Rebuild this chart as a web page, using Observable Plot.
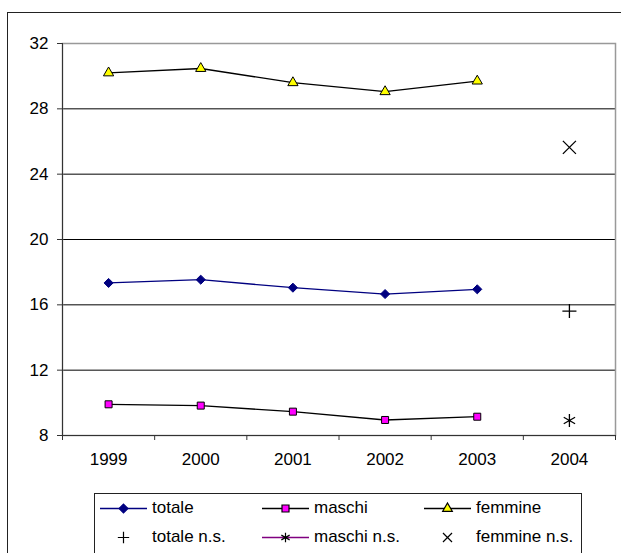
<!DOCTYPE html>
<html><head><meta charset="utf-8">
<script src="https://cdn.jsdelivr.net/npm/d3@7"></script>
<script src="https://cdn.jsdelivr.net/npm/@observablehq/plot@0.6"></script>
<style>
html,body{margin:0;padding:0;background:#fff;overflow:hidden;width:621px;height:553px;}
#wrap{position:relative;width:621px;height:553px;font-family:"Liberation Sans",Arial,sans-serif;overflow:hidden;}
#outer{position:absolute;left:7px;top:12px;width:640px;height:600px;border:1px solid #222;box-sizing:border-box;}
#chart{position:absolute;left:0;top:0;}
#legend{position:absolute;left:94px;top:493px;width:488px;height:90px;border:1px solid #222;box-sizing:border-box;background:#fff;}
.item{position:absolute;height:20px;display:flex;align-items:center;font-size:17px;color:#000;white-space:nowrap;}
.item svg{display:block;margin-right:5px;}
</style></head>
<body>
<div id="wrap">
  <div id="outer"></div>
  <div id="chart"></div>
  <div id="legend"></div>
</div>
<script>
// ---- data ----
const categories = [1999, 2000, 2001, 2002, 2003, 2004];
const years = [1999, 2000, 2001, 2002, 2003];
const totale = [17.34, 17.54, 17.05, 16.66, 16.95];
const maschi = [9.91, 9.83, 9.46, 8.95, 9.15];
const femmine = [30.2, 30.47, 29.6, 29.05, 29.7];
const nsYear = [2004];
const totaleNS = [15.62];
const maschiNS = [8.92];
const femmineNS = [25.64];
const yTicks = [8, 12, 16, 20, 24, 28, 32];
const gridTicks = [12, 16, 20, 24, 28];
const seriesNames = ["totale", "maschi", "femmine", "totale n.s.", "maschi n.s.", "femmine n.s."];

const rows = years.map((yr, i) => ({year: yr, totale: totale[i], maschi: maschi[i], femmine: femmine[i]}));
const nsRows = nsYear.map((yr, i) => ({year: yr, totale: totaleNS[i], maschi: maschiNS[i], femmine: femmineNS[i]}));
const bounds = categories.map(c => c - 0.5).concat([categories[categories.length - 1] + 0.5]);

const chart = Plot.plot({
  width: 621,
  height: 470,
  marginLeft: 62,
  marginRight: 6,
  marginTop: 43,
  marginBottom: 35,
  x: {domain: [bounds[0], bounds[bounds.length - 1]]},
  y: {domain: [yTicks[0], yTicks[yTicks.length - 1]]},
  style: {fontFamily: '"Liberation Sans", Arial, sans-serif', fontSize: "17px", color: "#000", background: "transparent"},
  marks: [
    Plot.gridY(gridTicks, {stroke: "#000", strokeOpacity: 1, strokeWidth: 1}),
    Plot.frame({stroke: "#999", strokeWidth: 1.5}),
    Plot.ruleY([yTicks[0]], {stroke: "#333"}),
    Plot.ruleX([bounds[0]], {stroke: "#333"}),
    Plot.axisY(yTicks, {tickSize: 5, tickPadding: 9, stroke: "#333", fontSize: 17, label: null}),
    Plot.axisX(bounds, {tickSize: 5, stroke: "#333", tickFormat: () => "", label: null}),
    Plot.axisX(categories, {tickSize: 0, tickPadding: 17, tickFormat: d => String(d), fontSize: 17, label: null}),
    Plot.line(rows, {x: "year", y: "femmine", stroke: "#000", strokeWidth: 1.3}),
    Plot.line(rows, {x: "year", y: "totale", stroke: "#000080", strokeWidth: 1.3}),
    Plot.line(rows, {x: "year", y: "maschi", stroke: "#000", strokeWidth: 1.3}),
    Plot.dot(rows, {x: "year", y: "femmine", symbol: "triangle", r: 3.8, fill: "#FFFF00", stroke: "#000", strokeWidth: 1}),
    Plot.dot(rows, {x: "year", y: "totale", symbol: "diamond2", r: 4.1, fill: "#000080", stroke: "#000080", strokeWidth: 1}),
    Plot.dot(rows, {x: "year", y: "maschi", symbol: "square", r: 3.95, fill: "#FF00FF", stroke: "#000", strokeWidth: 1}),
    Plot.dot(nsRows, {x: "year", y: "totale", symbol: "plus", r: 4.6, stroke: "#000", strokeWidth: 1.3}),
    Plot.dot(nsRows, {x: "year", y: "maschi", symbol: "asterisk", r: 6.2, stroke: "#000", strokeWidth: 1.3}),
    Plot.dot(nsRows, {x: "year", y: "femmine", symbol: "times", r: 6, stroke: "#000", strokeWidth: 1.3})
  ]
});
document.getElementById("chart").appendChild(chart);

// ---- legend ----
const legendSpec = [
  {name: seriesNames[0], line: "#000080", type: d3.symbolDiamond2, size: 50, fill: "#000080", stroke: "#000080", col: 0, row: 0},
  {name: seriesNames[1], line: "#000", type: d3.symbolSquare, size: 49, fill: "#FF00FF", stroke: "#000", col: 1, row: 0},
  {name: seriesNames[2], line: "#000", type: d3.symbolTriangle, size: 40, fill: "#FFFF00", stroke: "#000", col: 2, row: 0},
  {name: seriesNames[3], line: null, type: d3.symbolPlus, size: 44, fill: "none", stroke: "#000", col: 0, row: 1},
  {name: seriesNames[4], line: "#800080", type: d3.symbolAsterisk, size: 64, fill: "none", stroke: "#000", col: 1, row: 1},
  {name: seriesNames[5], line: null, type: d3.symbolTimes, size: 55, fill: "none", stroke: "#000", col: 2, row: 1}
];
const legend = d3.select("#legend");
legendSpec.forEach(s => {
  const it = legend.append("div").attr("class", "item")
    .style("left", (5 + s.col * 162) + "px")
    .style("top", (4 + s.row * 29) + "px");
  const svg = it.append("svg").attr("width", 47).attr("height", 20);
  if (s.line) svg.append("line").attr("x1", 0).attr("x2", 47).attr("y1", 10.5).attr("y2", 10.5)
    .attr("stroke", s.line).attr("stroke-width", 1.3);
  svg.append("path").attr("transform", "translate(23.5,10.5)")
    .attr("d", d3.symbol(s.type, s.size)())
    .attr("fill", s.fill).attr("stroke", s.stroke).attr("stroke-width", 1.2);
  it.append("span").text(s.name);
});
</script>
</body></html>
